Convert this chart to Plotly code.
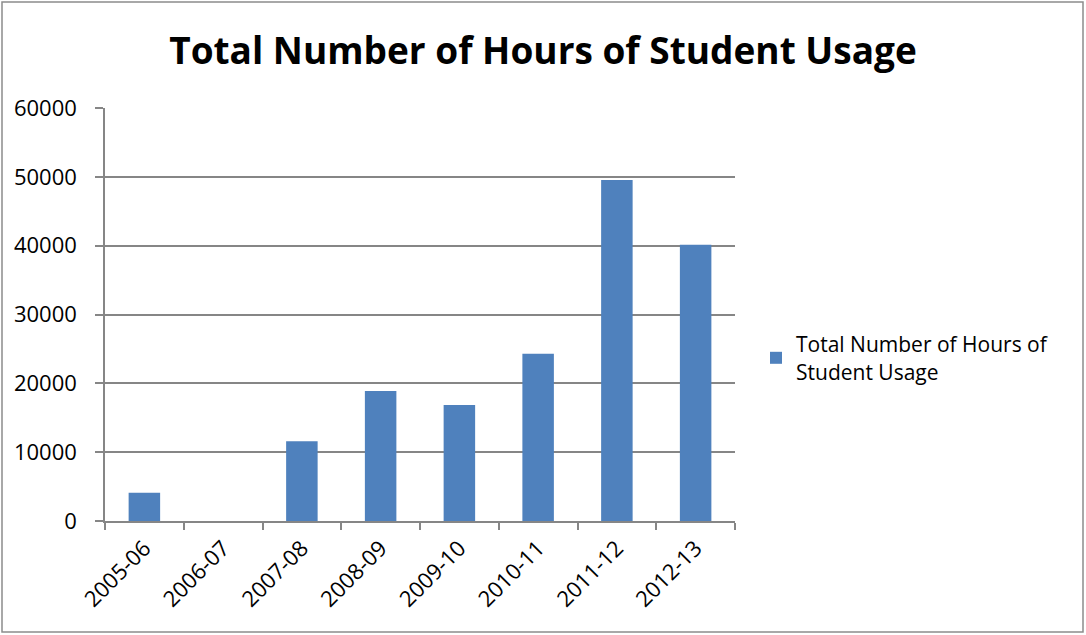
import plotly.graph_objects as go

categories = ["2005-06", "2006-07", "2007-08", "2008-09", "2009-10", "2010-11", "2011-12", "2012-13"]
hours = [4100, 0, 11600, 18900, 16850, 24300, 49550, 40150]
series_name = "Total Number of Hours of<br>Student Usage"
title_text = "Total Number of Hours of Student Usage"

L, R, T, B = 105, 351, 108, 114
W, H = 1086, 635
pw, ph = W - L - R, H - T - B

fig = go.Figure()
fig.add_trace(go.Bar(x=categories, y=hours, name=series_name, marker_color="#4F81BD",
                     marker_line_width=0, showlegend=True))

font_family = "Open Sans, Liberation Sans, sans-serif"
fig.update_layout(
    width=W, height=H,
    margin=dict(l=L, r=R, t=T, b=B, pad=0),
    paper_bgcolor="white", plot_bgcolor="white",
    bargap=0.6,
    title=dict(text="<b>" + title_text + "</b>", x=0.5, xanchor="center", y=0.92, yanchor="middle",
               font=dict(family=font_family, size=37, color="black")),
    font=dict(family=font_family, color="black"),
    legend=dict(x=(756 - L) / pw, xanchor="left", y=(H - B - 358) / ph, yanchor="middle",
                font=dict(size=21, color="black"), bgcolor="rgba(0,0,0,0)", itemsizing="constant"),
    xaxis=dict(type="category", showline=True, linecolor="#868686", linewidth=1.5, ticks="outside", ticklen=7,
               tickcolor="#868686", tickwidth=1.5, tickson="boundaries", tickangle=-45,
               tickfont=dict(size=22, color="black"), showgrid=False, ticklabelstandoff=4),
    yaxis=dict(range=[0, 60000], dtick=10000, showline=True, linecolor="#868686", linewidth=1.5,
               ticks="outside", ticklen=8, tickcolor="#868686", tickwidth=1.5,
               gridcolor="#868686", gridwidth=1.5, zeroline=False, ticklabelstandoff=14,
               tickfont=dict(size=22, color="black"), tickformat="d"),
)

fig.add_shape(type="rect", xref="paper", yref="paper",
              x0=(2 - L) / pw, x1=(1083 - L) / pw,
              y0=(H - B - 632) / ph, y1=(H - B - 2) / ph,
              line=dict(color="#8c8c8c", width=1.5), fillcolor="rgba(0,0,0,0)", layer="below")

fig.write_html("out.html")
